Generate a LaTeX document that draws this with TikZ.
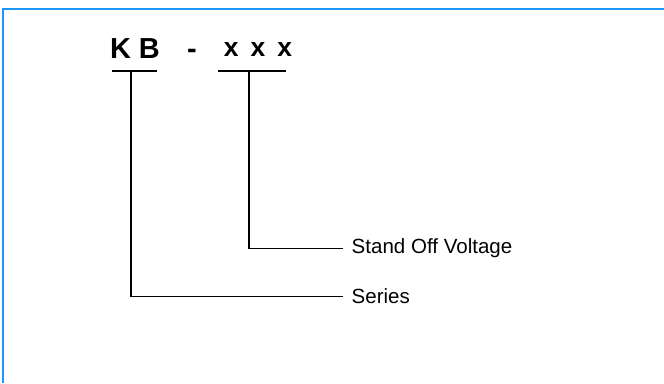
\documentclass[tikz,border=0pt]{standalone}
\usepackage{fontspec}
\setmainfont{Liberation Sans}
\definecolor{frameblue}{RGB}{30,150,255}
\begin{document}
\begin{tikzpicture}[
    code/.style={font=\fontsize{20.6}{24}\selectfont\bfseries, inner sep=0pt, anchor=base},
    lbl/.style={font=\fontsize{14.6}{17}\selectfont, inner xsep=6pt, inner ysep=0pt, anchor=west},
    wire/.style={line width=0.8pt}
  ]
    \useasboundingbox (0,0) rectangle (16.6,9.575);
    \draw[frameblue, line width=1.4pt] (0.075,0) -- (0.075,9.35) -- (16.6,9.35);
    % part number
    \node[code] (kb) at (3.375,8.11) {K B};
    \node[code] (dash) at (4.8,8.11) {-};
    \node[code, font=\fontsize{18.8}{22}\selectfont\bfseries] (volt) at (6.45,8.16)
      {x\hspace{0.3cm}x\hspace{0.3cm}x};
    % underlines
    \coordinate (kbl) at (2.8,7.80);
    \coordinate (kbr) at (3.925,7.80);
    \coordinate (kbtap) at (3.275,7.80);
    \coordinate (voltl) at (5.45,7.80);
    \coordinate (voltr) at (7.15,7.80);
    \coordinate (volttap) at (6.225,7.80);
    \draw[wire] (kbl) -- (kbr);
    \draw[wire] (voltl) -- (voltr);
    % labels
    \node[lbl] (standoff) at (8.575,3.37) {Stand Off Voltage};
    \node[lbl] (series) at (8.575,2.16) {Series};
    \draw[wire] (volttap) |- (standoff.west);
    \draw[wire] (kbtap) |- (series.west);
  \end{tikzpicture}
\end{document}
